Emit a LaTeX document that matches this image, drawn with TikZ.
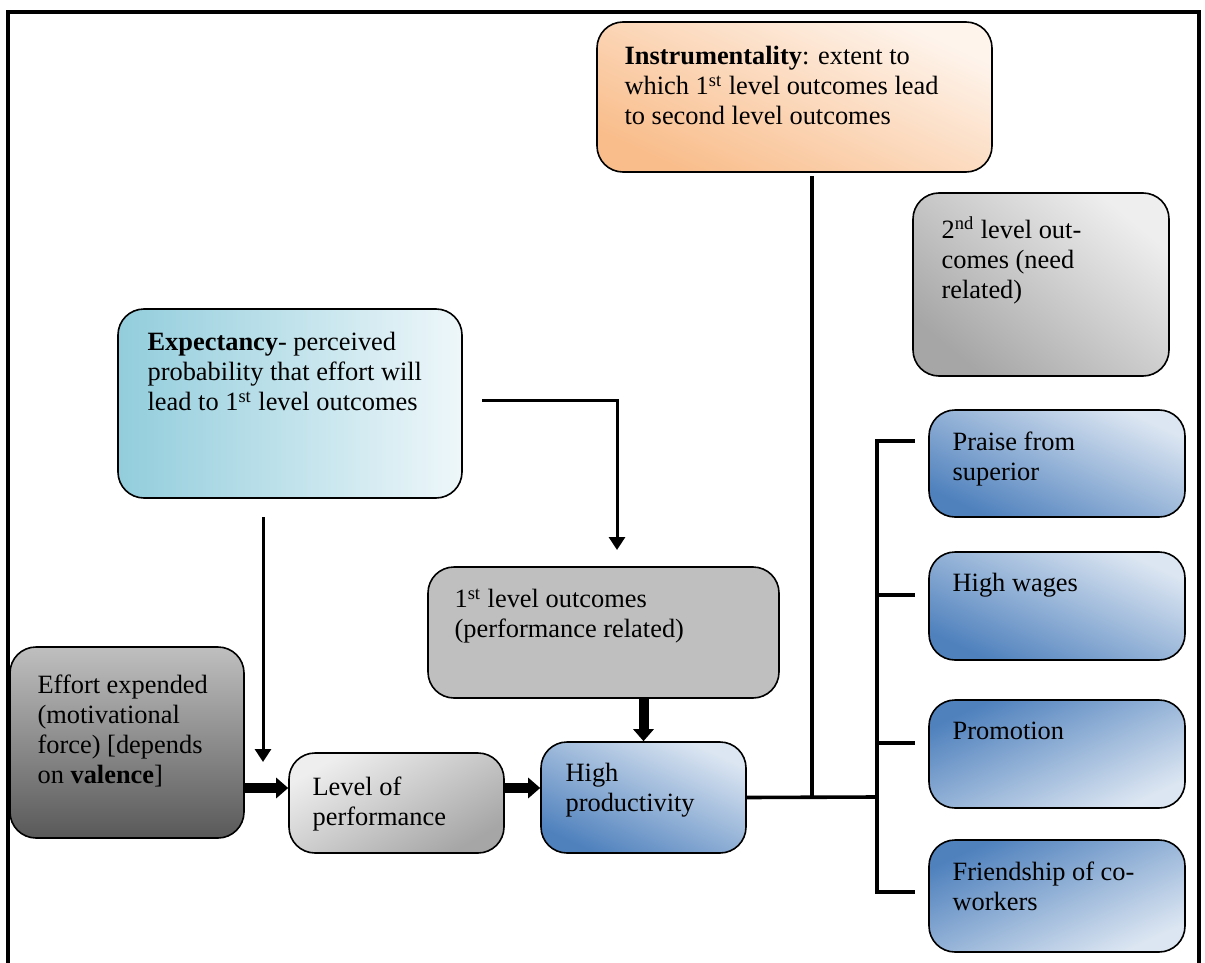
\documentclass[tikz,border=0pt]{standalone}
\usepackage{fontspec}
\setmainfont{LiberationSerif}[Extension=.ttf, UprightFont=*-Regular, BoldFont=*-Bold, ItalicFont=*-Italic, BoldItalicFont=*-BoldItalic]
\usetikzlibrary{calc}
\usetikzlibrary{shapes}
\usetikzlibrary{arrows.meta}
\usetikzlibrary{backgrounds}

\definecolor{orangedk}{HTML}{F9BD8B}
\definecolor{orangelt}{HTML}{FEF4EC}
\definecolor{graylt}{HTML}{EEEEEE}
\definecolor{graydk}{HTML}{A6A6A6}
\definecolor{tealdk}{HTML}{92CDDC}
\definecolor{teallt}{HTML}{EEF7FA}
\definecolor{grayfill}{HTML}{BFBFBF}
\definecolor{darkgray}{HTML}{595959}
\definecolor{bluedk}{HTML}{4F81BD}
\definecolor{bluelt}{HTML}{DCE6F2}

\begin{document}
\begin{tikzpicture}[x=0.5pt, y=-0.5pt]
            \tikzstyle{box} = [draw, rounded corners=13pt, line width=0.8pt, inner sep=0pt]
            \tikzstyle{txt} = [anchor=north west, align=left, inner sep=0pt, font=\rmfamily\fontsize{13.2}{15}\selectfont]
            \tikzstyle{link} = [line width=1.8pt, line cap=rect]
            \tikzstyle{thin arrow} = [line width=1.5pt, -{Triangle[length=6.5pt, width=8pt]}]
            \tikzstyle{fat arrow} = [line width=5pt, -{Triangle[length=6pt, width=10pt]}]
            \tikzstyle{bluebox} = [box, top color=bluelt, bottom color=bluedk, shading angle=-25, minimum width=128pt]
            \tikzstyle{bluebox2} = [box, top color=bluedk, bottom color=bluelt, shading angle=25, minimum width=128pt]
            \useasboundingbox (0,0) rectangle (1205,963);
            \draw [line width=1.6pt] (8,963) -- (8,12) -- (1199,12) -- (1199,963);

            \node (instr) [box, top color=orangelt, bottom color=orangedk, shading angle=-25, minimum width=197.5pt, minimum height=75pt] at (794.5,97) {};
            \node (instr-t) [txt] at ($(instr.north west)+(28,25)$) {\textbf{Instrumentality}: extent to\\which 1\textsuperscript{st} level outcomes lead\\to second level outcomes};

            \node (second) [box, top color=graylt, bottom color=graydk, shading angle=-40, minimum width=128pt, minimum height=91.5pt] at (1041,284.5) {};
            \node (second-t) [txt] at ($(second.north west)+(29,24)$) {2\textsuperscript{nd} level out-\\comes (need\\related)};

            \node (expect) [box, left color=tealdk, right color=teallt, minimum width=172pt, minimum height=94.5pt] at (290,403.5) {};
            \node (expect-t) [txt] at ($(expect.north west)+(30,24)$) {\textbf{Expectancy}- perceived\\probability that effort will\\lead to 1\textsuperscript{st} level outcomes};

            \node (first) [box, fill=grayfill, minimum width=175.5pt, minimum height=65.5pt] at (603.5,632.5) {};
            \node (first-t) [txt] at ($(first.north west)+(27,22)$) {1\textsuperscript{st} level outcomes\\(performance related)};

            \node (effort) [box, top color=grayfill, bottom color=darkgray, minimum width=117pt, minimum height=95.5pt] at (127,742.5) {};
            \node (effort-t) [txt] at ($(effort.north west)+(28,28)$) {Effort expended\\(motivational\\force) [depends\\on \textbf{valence}]};

            \node (level) [box, top color=graylt, bottom color=graydk, shading angle=30, minimum width=107.5pt, minimum height=50pt] at (396.5,803) {};
            \node (level-t) [txt] at ($(level.north west)+(24,24)$) {Level of\\performance};

            \node (high) [bluebox, minimum width=102.5pt, minimum height=55.5pt] at (643.5,797.5) {};
            \node (high-t) [txt] at ($(high.north west)+(25,22)$) {High\\productivity};

            \node (praise) [bluebox, minimum height=53.5pt] at (1057,463.5) {};
            \node (praise-t) [txt] at ($(praise.north west)+(24,22)$) {Praise from\\superior};
            \node (wages) [bluebox, minimum height=54pt] at (1057,606) {};
            \node (wages-t) [txt] at ($(wages.north west)+(24,22)$) {High wages};
            \node (promo) [bluebox2, minimum height=54pt] at (1057,754) {};
            \node (promo-t) [txt] at ($(promo.north west)+(24,22)$) {Promotion};
            \node (friend) [bluebox2, minimum height=56pt] at (1057,896) {};
            \node (friend-t) [txt] at ($(friend.north west)+(24,22)$) {Friendship of co-\\workers};

            \coordinate (e1) at (482,400);
            \coordinate (e2) at (617,550);
            \coordinate (e3) at (263,517);
            \coordinate (e4) at (263,762);
            \draw [thin arrow] (e1) -| (e2);
            \draw [thin arrow] (e3) -- (e4);

            \coordinate (mid) at (0,788);
            \draw [fat arrow] (effort.east |- mid) -- (level.west |- mid);
            \draw [fat arrow] (level.east |- mid) -- (high.west |- mid);
            \draw [fat arrow] (high.north |- first.south) -- (high.north);

            \coordinate (j) at (877,797);
            \coordinate (i1) at (812,178);
            \draw [link] (high.east) -- (j);
            \draw [link] (i1) -- (i1 |- j);
            \foreach \n/\y in {praise/441, wages/595, promo/743, friend/892} {
                \coordinate (t-\n) at (877,\y);
                \draw [link] (t-\n) -- ($(\n.west |- t-\n)+(-15,0)$);
            }
            \draw [link] (t-praise) -- (t-friend);
        \end{tikzpicture}
\end{document}
